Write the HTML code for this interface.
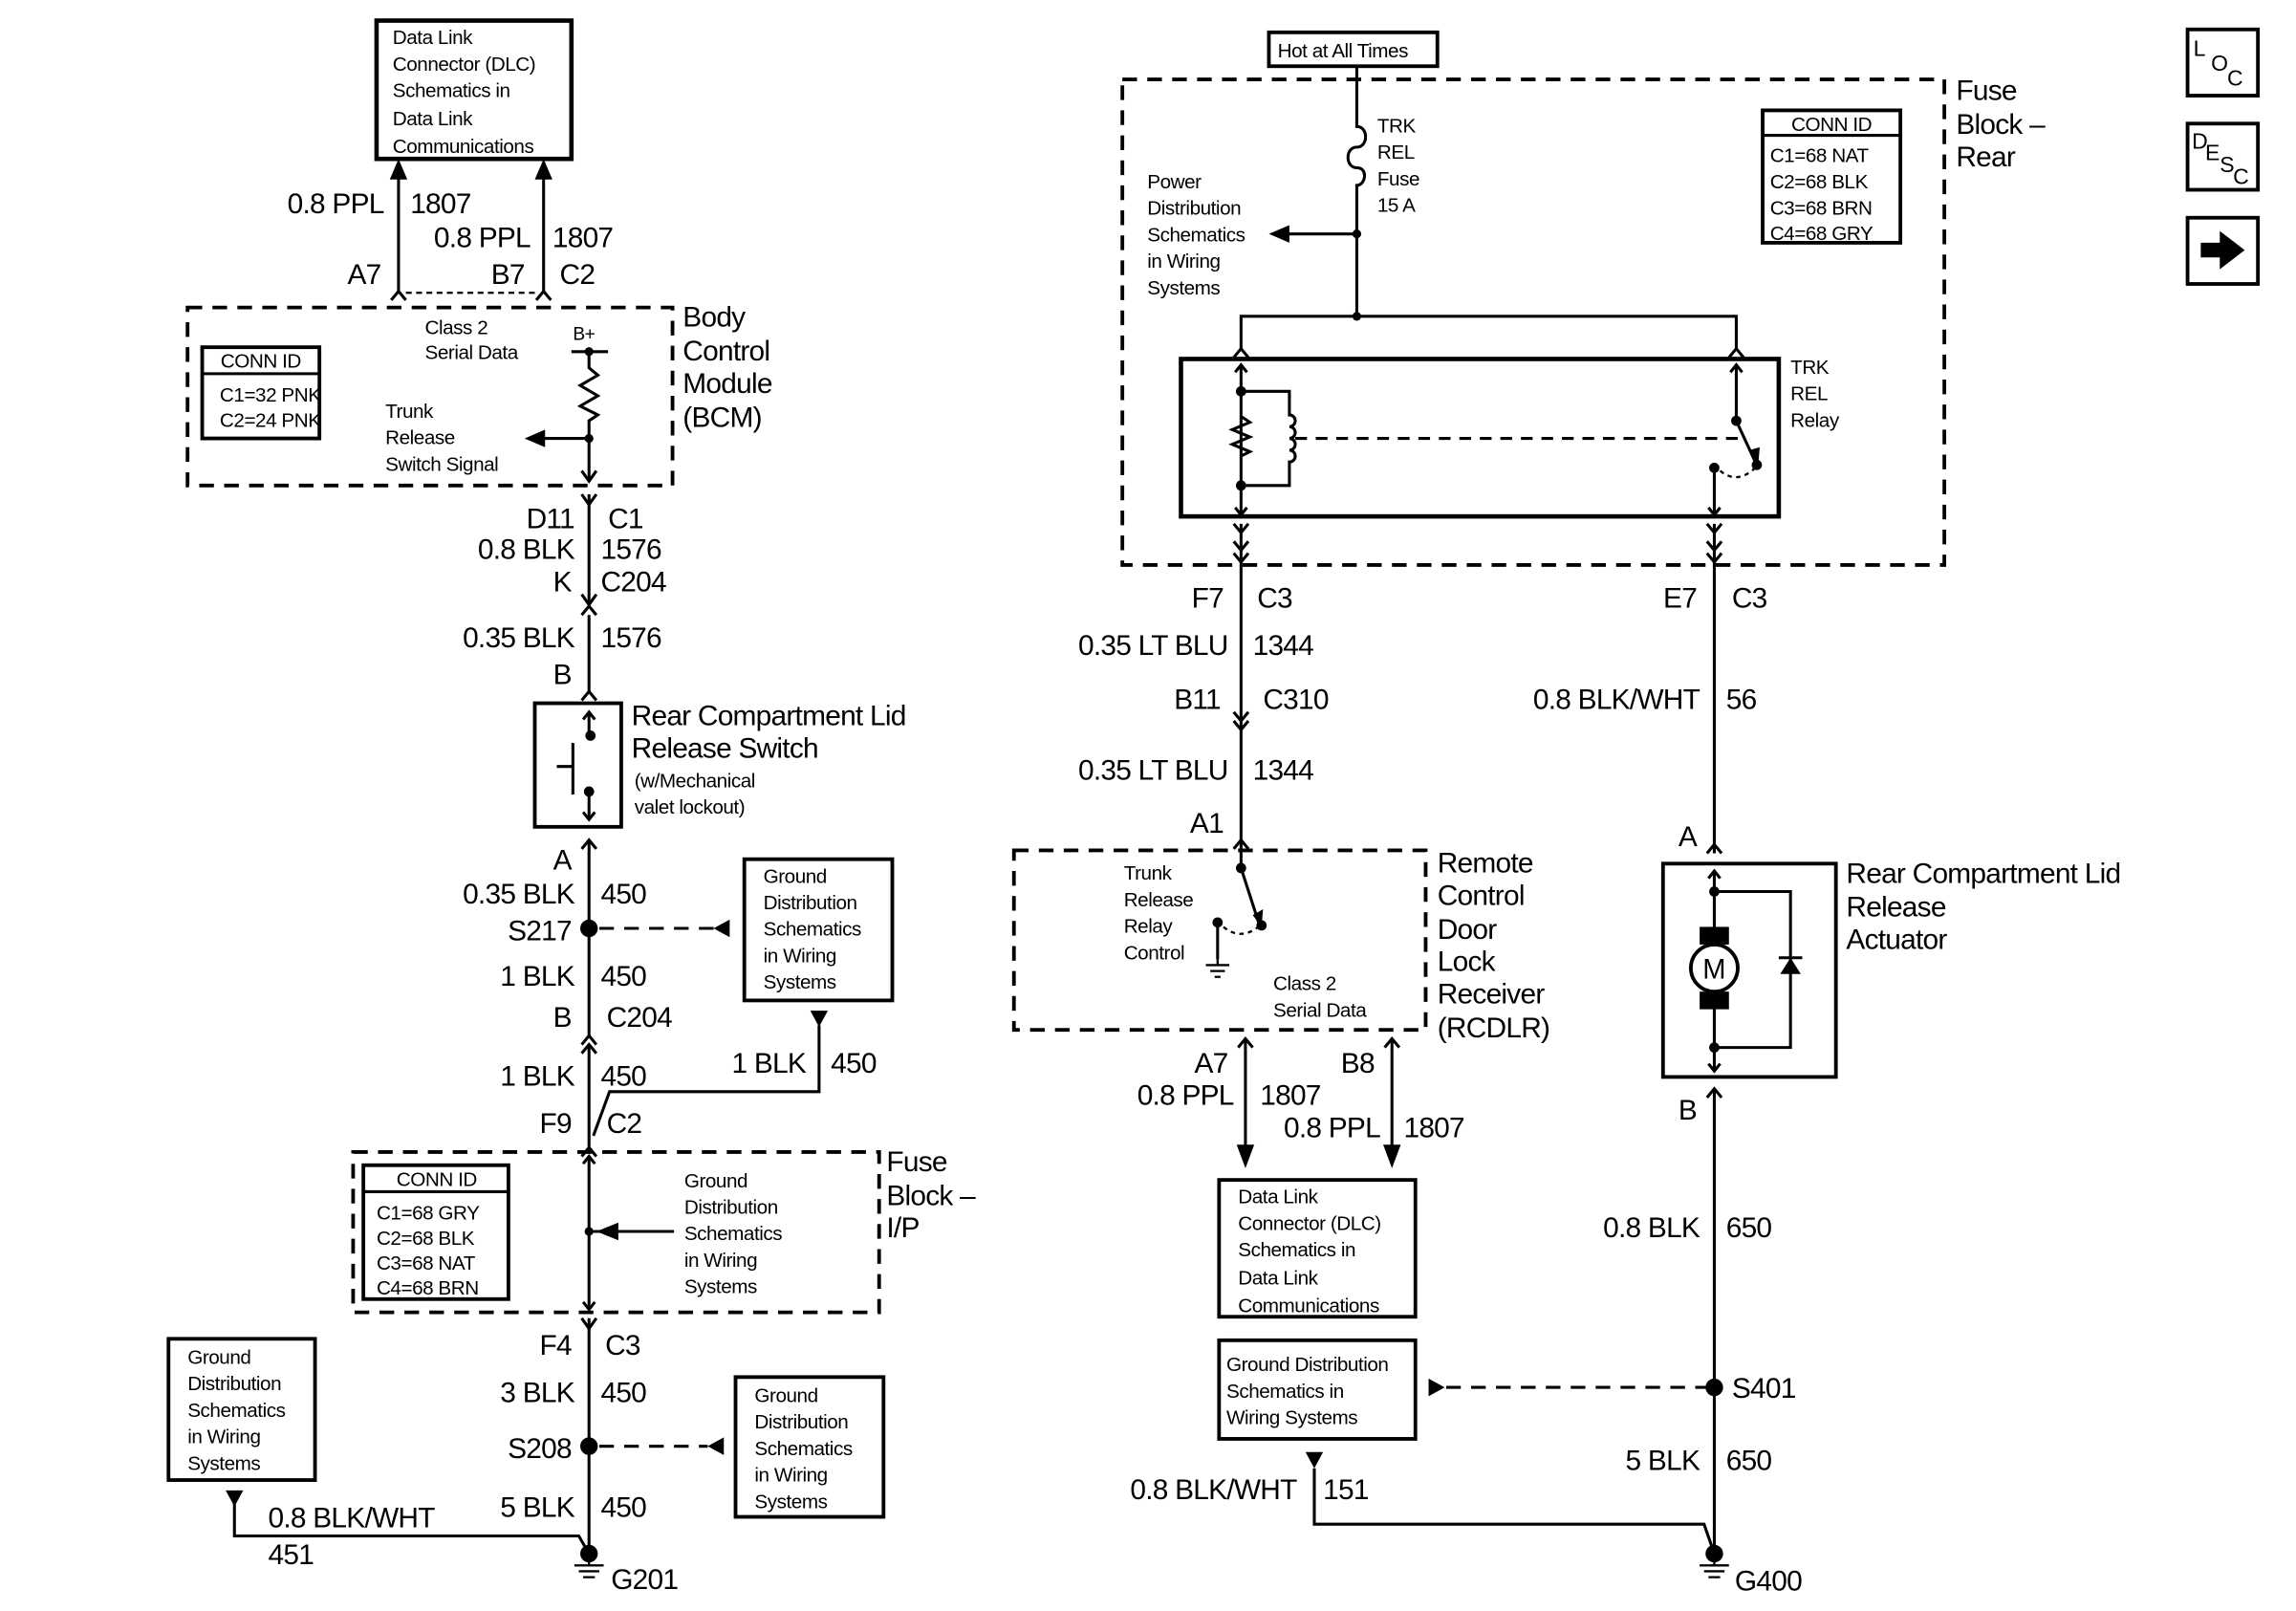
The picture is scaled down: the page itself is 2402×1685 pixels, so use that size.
<!DOCTYPE html>
<html><head><meta charset="utf-8"><style>
html,body{margin:0;padding:0;background:#fff}
svg{display:block}
text{font-family:"Liberation Sans",sans-serif;fill:#000}
.s{font-size:13.5px;letter-spacing:-0.3px}
.b{font-size:19.5px;letter-spacing:-0.5px}
.e{text-anchor:end}
.m{text-anchor:middle}
</style></head><body>
<svg width="2402" height="1685" viewBox="0 0 1567 1095" preserveAspectRatio="none" xmlns="http://www.w3.org/2000/svg">
<g fill="none" stroke="#000" stroke-width="2">
<rect x="257" y="14" width="133" height="94" stroke-width="3"/>
<line x1="272" y1="198" x2="272" y2="120"/>
<line x1="371" y1="198" x2="371" y2="120"/>
<path d="M267,204 L272,198 L277,204 M366,204 L371,198 L376,204"/>
<line x1="277" y1="199" x2="366" y2="199" stroke-dasharray="4,3" stroke-width="1.5"/>
<rect x="128" y="209" width="331" height="121" stroke-dasharray="10,7" stroke-width="2.5"/>
<rect x="138" y="236" width="80" height="62" stroke-width="2.5"/>
<line x1="138" y1="254" x2="218" y2="254" stroke-width="2"/>
<line x1="390" y1="239" x2="415" y2="239"/>
<path d="M402,239 V250 L408,255 L396,262 L408,269 L396,276 L408,282 L402,286 V326"/>
<line x1="402" y1="298" x2="370" y2="298"/>
<path d="M397,320 L402,327 L407,320"/>
<line x1="402" y1="336" x2="402" y2="411"/>
<path d="M397,336 L402,343 L407,336 M397,404 L402,411 L407,404 M397,418 L402,412 L407,418"/>
<line x1="402" y1="418" x2="402" y2="470"/>
<path d="M397,476 L402,470 L407,476"/>
<rect x="365" y="478" width="59" height="84" stroke-width="2.5"/>
<line x1="402" y1="484" x2="402" y2="500"/>
<path d="M398,489 L402,484 L406,489"/>
<line x1="391" y1="505" x2="391" y2="540"/>
<line x1="380" y1="521" x2="391" y2="521"/>
<line x1="402" y1="538" x2="402" y2="557"/>
<path d="M398,552 L402,557 L406,552"/>
<path d="M397,577 L402,571 L407,577"/>
<line x1="402" y1="571" x2="402" y2="704"/>
<line x1="409" y1="631" x2="487" y2="631" stroke-dasharray="10,7"/>
<rect x="508" y="584" width="101" height="96" stroke-width="2.5"/>
<path d="M397,710 L402,704 L407,710 M397,716 L402,710 L407,716"/>
<line x1="402" y1="710" x2="402" y2="782"/>
<path d="M559,697 V742 H416 L405,772"/>
<path d="M397,786 L402,780 L407,786"/>
<rect x="241" y="783" width="359" height="109" stroke-dasharray="10,7" stroke-width="2.5"/>
<rect x="248" y="792" width="99" height="91" stroke-width="2.5"/>
<line x1="248" y1="810" x2="347" y2="810"/>
<line x1="402" y1="786" x2="402" y2="890"/>
<path d="M398,791 L402,786 L406,791 M398,885 L402,890 L406,885"/>
<line x1="402" y1="837" x2="460" y2="837"/>
<line x1="402" y1="896" x2="402" y2="1056"/>
<path d="M397,896 L402,903 L407,896"/>
<line x1="409" y1="983" x2="483" y2="983" stroke-dasharray="10,7"/>
<rect x="502" y="936" width="101" height="95" stroke-width="2.5"/>
<rect x="115" y="910" width="100" height="96" stroke-width="2.5"/>
<path d="M160,1022 V1044 H395 L402,1056"/>
<path d="M402,1056 V1064 M392,1064 H412 M395,1068 H409 M398,1072 H406" stroke-width="1.5"/>
<rect x="866" y="22" width="115" height="23" stroke-width="2.5"/>
<path d="M926,45 V86 C934,86 934,100 926,100 C918,100 918,114 926,114 C934,114 932,126 926,126 V215"/>
<line x1="926" y1="159" x2="878" y2="159"/>
<rect x="766" y="54" width="561" height="330" stroke-dasharray="10,7" stroke-width="2.5"/>
<rect x="1203" y="75" width="94" height="90" stroke-width="2.5"/>
<line x1="1203" y1="92" x2="1297" y2="92"/>
<path d="M847,237 V215 H1185 V237"/>
<path d="M842,243 L847,237 L852,243 M1180,243 L1185,237 L1190,243"/>
<rect x="806" y="244" width="408" height="107" stroke-width="3"/>
<line x1="847" y1="248" x2="847" y2="350"/>
<path d="M843,253 L847,248 L851,253 M843,345 L847,350 L851,345"/>
<path d="M847,266 H880 V282 a4,4 0 0 1 0,8 a4,4 0 0 1 0,8 a4,4 0 0 1 0,8 a4,4 0 0 1 0,8 V330 H847"/>
<path d="M847,283 L853,287 L841,292 L853,297 L841,302 L853,307 L847,310" />
<line x1="884" y1="298" x2="1188" y2="298" stroke-dasharray="8,6"/>
<line x1="1185" y1="248" x2="1185" y2="286"/>
<path d="M1181,253 L1185,248 L1189,253"/>
<line x1="1185" y1="286" x2="1198" y2="314"/>
<line x1="1170" y1="318" x2="1170" y2="350"/>
<path d="M1166,345 L1170,350 L1174,345"/>
<path d="M1174,320 Q1186,330 1199,317" stroke-dasharray="3,3" stroke-width="1.5"/>
<path d="M842,356 L847,362 L852,356 M1165,356 L1170,362 L1175,356"/>
<line x1="847" y1="356" x2="847" y2="490"/>
<line x1="1170" y1="356" x2="1170" y2="580"/>
<path d="M842,376 L847,382 L852,376 M1165,376 L1170,382 L1175,376 M842,368 L847,374 L852,368 M1165,368 L1170,374 L1175,368"/>
<path d="M842,484 L847,490 L852,484 M842,490 L847,496 L852,490"/>
<line x1="847" y1="490" x2="847" y2="579"/>
<path d="M842,577 L847,571 L852,577 M1165,580 L1170,574 L1175,580"/>
<rect x="692" y="578" width="281" height="122" stroke-dasharray="10,7" stroke-width="2.5"/>
<line x1="847" y1="579" x2="847" y2="590"/>
<line x1="847" y1="590" x2="859" y2="627"/>
<line x1="831" y1="627" x2="831" y2="652"/>
<path d="M835,630 Q847,640 860,629" stroke-dasharray="3,3" stroke-width="1.5"/>
<path d="M831,652 V656 M823,656 H839 M826,660 H836 M829,664 H833" stroke-width="1.5"/>
<path d="M845,712 L850,706 L855,712 M945,712 L950,706 L955,712"/>
<line x1="850" y1="706" x2="850" y2="782"/>
<line x1="950" y1="706" x2="950" y2="782"/>
<rect x="832" y="802" width="134" height="93" stroke-width="2.5"/>
<rect x="832" y="911" width="134" height="67" stroke-width="2.5"/>
<line x1="987" y1="943" x2="1165" y2="943" stroke-dasharray="10,7"/>
<path d="M897,998 V1036 H1163 L1170,1056"/>
<rect x="1135" y="587" width="118" height="145" stroke-width="2.5"/>
<line x1="1170" y1="592" x2="1170" y2="728"/>
<path d="M1166,597 L1170,592 L1174,597 M1166,723 L1170,728 L1174,723"/>
<path d="M1170,606 H1222 V712 H1170"/>
<circle cx="1170" cy="658" r="16" fill="#fff" stroke-width="2.5"/>
<line x1="1214" y1="651" x2="1230" y2="651"/>
<path d="M1165,746 L1170,740 L1175,746"/>
<line x1="1170" y1="740" x2="1170" y2="1056"/>
<path d="M1170,1056 V1064 M1160,1064 H1180 M1163,1068 H1177 M1166,1072 H1174" stroke-width="1.5"/>
<rect x="1493" y="20" width="48" height="45" stroke-width="2.5"/>
<rect x="1493" y="84" width="48" height="45" stroke-width="2.5"/>
<rect x="1493" y="148" width="48" height="45" stroke-width="2.5"/>
</g>
<g fill="#000" stroke="none">
<path d="M266,122 L272,108 L278,122Z M365,122 L371,108 L377,122Z"/>
<circle cx="402" cy="239" r="3"/><circle cx="402" cy="298" r="3"/>
<path d="M372,292 L358,298 L372,304Z"/>
<circle cx="403" cy="500" r="3.5"/><circle cx="402" cy="538" r="3.5"/>
<circle cx="402" cy="631" r="6"/>
<path d="M498,625 L487,631 L498,637Z"/>
<path d="M553,687 L565,687 L559,698Z"/>
<circle cx="402" cy="837" r="3"/>
<path d="M422,831 L407,837 L422,843Z"/>
<circle cx="402" cy="983" r="6"/>
<path d="M494,977 L483,983 L494,989Z"/>
<path d="M154,1013 L166,1013 L160,1024Z"/>
<circle cx="402" cy="1056" r="6"/>
<path d="M880,153 L866,159 L880,165Z"/>
<circle cx="926" cy="159" r="3"/><circle cx="926" cy="215" r="3"/>
<circle cx="847" cy="266" r="3.5"/><circle cx="847" cy="330" r="3.5"/>
<circle cx="1185" cy="286" r="3.5"/><circle cx="1199" cy="316" r="3.5"/><circle cx="1170" cy="318" r="3.5"/>
<path d="M1194,306 L1200,316 L1201,304Z"/>
<circle cx="847" cy="590" r="3.5"/><circle cx="861" cy="629" r="3.5"/><circle cx="831" cy="627" r="3.5"/>
<path d="M855,622 L861,630 L862,618Z"/>
<path d="M844,778 L856,778 L850,794Z M944,778 L956,778 L950,794Z"/>
<path d="M975,937 L986,943 L975,949Z"/>
<path d="M891,987 L903,987 L897,998Z"/>
<circle cx="1170" cy="943" r="6"/>
<circle cx="1170" cy="1056" r="6"/>
<circle cx="1170" cy="606" r="3.5"/><circle cx="1170" cy="712" r="3.5"/>
<rect x="1160" y="630" width="20" height="12"/><rect x="1160" y="674" width="20" height="12"/>
<path d="M1215,662 L1229,662 L1222,651Z"/>
<path d="M1502,165 H1515 V157 L1532,170 L1515,183 V175 H1502Z"/>
</g>
<text x="1170" y="665" text-anchor="middle" style="font-size:19px">M</text>
<g class="s">
<text x="268" y="30">Data Link</text><text x="268" y="48">Connector (DLC)</text><text x="268" y="66">Schematics in</text><text x="268" y="85">Data Link</text><text x="268" y="104">Communications</text>
<text x="290" y="227">Class 2</text><text x="290" y="244">Serial Data</text>
<text x="391" y="231" style="font-size:12.5px">B+</text>
<text x="178" y="250" class="m">CONN ID</text><text x="150" y="273">C1=32 PNK</text><text x="150" y="290">C2=24 PNK</text>
<text x="263" y="284">Trunk</text><text x="263" y="302">Release</text><text x="263" y="320">Switch Signal</text>
<text x="433" y="535">(w/Mechanical</text><text x="433" y="553">valet lockout)</text>
<text x="521" y="600">Ground</text><text x="521" y="618">Distribution</text><text x="521" y="636">Schematics</text><text x="521" y="654">in Wiring</text><text x="521" y="672">Systems</text>
<text x="298" y="806" class="m">CONN ID</text><text x="257" y="829">C1=68 GRY</text><text x="257" y="846">C2=68 BLK</text><text x="257" y="863">C3=68 NAT</text><text x="257" y="880">C4=68 BRN</text>
<text x="467" y="807">Ground</text><text x="467" y="825">Distribution</text><text x="467" y="843">Schematics</text><text x="467" y="861">in Wiring</text><text x="467" y="879">Systems</text>
<text x="515" y="953">Ground</text><text x="515" y="971">Distribution</text><text x="515" y="989">Schematics</text><text x="515" y="1007">in Wiring</text><text x="515" y="1025">Systems</text>
<text x="128" y="927">Ground</text><text x="128" y="945">Distribution</text><text x="128" y="963">Schematics</text><text x="128" y="981">in Wiring</text><text x="128" y="999">Systems</text>
<text x="872" y="39">Hot at All Times</text>
<text x="940" y="90">TRK</text><text x="940" y="108">REL</text><text x="940" y="126">Fuse</text><text x="940" y="144">15 A</text>
<text x="783" y="128">Power</text><text x="783" y="146">Distribution</text><text x="783" y="164">Schematics</text><text x="783" y="182">in Wiring</text><text x="783" y="200">Systems</text>
<text x="1250" y="89" class="m">CONN ID</text><text x="1208" y="110">C1=68 NAT</text><text x="1208" y="128">C2=68 BLK</text><text x="1208" y="146">C3=68 BRN</text><text x="1208" y="163">C4=68 GRY</text>
<text x="1222" y="254">TRK</text><text x="1222" y="272">REL</text><text x="1222" y="290">Relay</text>
<text x="767" y="598">Trunk</text><text x="767" y="616">Release</text><text x="767" y="634">Relay</text><text x="767" y="652">Control</text>
<text x="869" y="673">Class 2</text><text x="869" y="691">Serial Data</text>
<text x="845" y="818">Data Link</text><text x="845" y="836">Connector (DLC)</text><text x="845" y="854">Schematics in</text><text x="845" y="873">Data Link</text><text x="845" y="892">Communications</text>
<text x="837" y="932">Ground Distribution</text><text x="837" y="950">Schematics in</text><text x="837" y="968">Wiring Systems</text>
</g>
<g class="b">
<text x="262" y="145" class="e">0.8 PPL</text><text x="280" y="145">1807</text>
<text x="362" y="168" class="e">0.8 PPL</text><text x="377" y="168">1807</text>
<text x="260" y="193" class="e">A7</text><text x="358" y="193" class="e">B7</text><text x="382" y="193">C2</text>
<text x="466" y="222">Body</text><text x="466" y="245">Control</text><text x="466" y="267">Module</text><text x="466" y="290">(BCM)</text>
<text x="392" y="359" class="e">D11</text><text x="415" y="359">C1</text>
<text x="392" y="380" class="e">0.8 BLK</text><text x="410" y="380">1576</text>
<text x="390" y="402" class="e">K</text><text x="410" y="402">C204</text>
<text x="392" y="440" class="e">0.35 BLK</text><text x="410" y="440">1576</text>
<text x="390" y="465" class="e">B</text>
<text x="431" y="493">Rear Compartment Lid</text><text x="431" y="515">Release Switch</text>
<text x="390" y="591" class="e">A</text>
<text x="392" y="614" class="e">0.35 BLK</text><text x="410" y="614">450</text>
<text x="390" y="639" class="e">S217</text>
<text x="392" y="670" class="e">1 BLK</text><text x="410" y="670">450</text>
<text x="390" y="698" class="e">B</text><text x="414" y="698">C204</text>
<text x="392" y="738" class="e">1 BLK</text><text x="410" y="738">450</text>
<text x="550" y="729" class="e">1 BLK</text><text x="567" y="729">450</text>
<text x="390" y="770" class="e">F9</text><text x="414" y="770">C2</text>
<text x="605" y="796">Fuse</text><text x="605" y="819">Block –</text><text x="605" y="841">I/P</text>
<text x="390" y="921" class="e">F4</text><text x="413" y="921">C3</text>
<text x="392" y="953" class="e">3 BLK</text><text x="410" y="953">450</text>
<text x="390" y="991" class="e">S208</text>
<text x="392" y="1031" class="e">5 BLK</text><text x="410" y="1031">450</text>
<text x="183" y="1038">0.8 BLK/WHT</text><text x="183" y="1063">451</text>
<text x="417" y="1080">G201</text>
<text x="1335" y="68">Fuse</text><text x="1335" y="91">Block –</text><text x="1335" y="113">Rear</text>
<text x="835" y="413" class="e">F7</text><text x="858" y="413">C3</text>
<text x="1158" y="413" class="e">E7</text><text x="1182" y="413">C3</text>
<text x="838" y="445" class="e">0.35 LT BLU</text><text x="855" y="445">1344</text>
<text x="833" y="482" class="e">B11</text><text x="862" y="482">C310</text>
<text x="1160" y="482" class="e">0.8 BLK/WHT</text><text x="1178" y="482">56</text>
<text x="838" y="530" class="e">0.35 LT BLU</text><text x="855" y="530">1344</text>
<text x="835" y="566" class="e">A1</text>
<text x="1158" y="575" class="e">A</text>
<text x="981" y="593">Remote</text><text x="981" y="615">Control</text><text x="981" y="638">Door</text><text x="981" y="660">Lock</text><text x="981" y="682">Receiver</text><text x="981" y="705">(RCDLR)</text>
<text x="1260" y="600">Rear Compartment Lid</text><text x="1260" y="623">Release</text><text x="1260" y="645">Actuator</text>
<text x="838" y="729" class="e">A7</text><text x="938" y="729" class="e">B8</text>
<text x="842" y="751" class="e">0.8 PPL</text><text x="860" y="751">1807</text>
<text x="942" y="773" class="e">0.8 PPL</text><text x="958" y="773">1807</text>
<text x="1158" y="761" class="e">B</text>
<text x="1160" y="841" class="e">0.8 BLK</text><text x="1178" y="841">650</text>
<text x="1182" y="950">S401</text>
<text x="1160" y="999" class="e">5 BLK</text><text x="1178" y="999">650</text>
<text x="885" y="1019" class="e">0.8 BLK/WHT</text><text x="903" y="1019">151</text>
<text x="1184" y="1081">G400</text>
</g>
<g style="font-size:15px">
<text x="1497" y="38">L</text><text x="1509" y="48">O</text><text x="1520" y="58">C</text>
<text x="1496" y="101">D</text><text x="1505" y="109">E</text><text x="1515" y="117">S</text><text x="1524" y="125">C</text>
</g>
</svg>
</body></html>
